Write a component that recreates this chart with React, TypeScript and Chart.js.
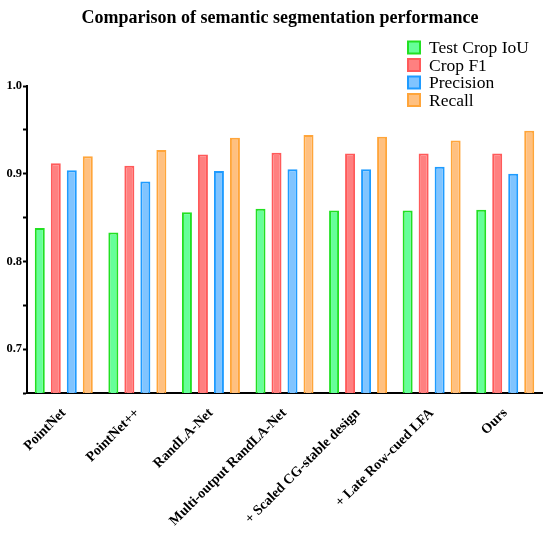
import React, { useEffect, useRef } from 'react';
import { Chart, registerables } from 'chart.js';

Chart.register(...registerables);

const categories = [
  'PointNet',
  'PointNet++',
  'RandLA-Net',
  'Multi-output RandLA-Net',
  '+ Scaled CG-stable design',
  '+ Late Row-cued LFA',
  'Ours',
];

const testCropIoU = [0.838, 0.833, 0.856, 0.86, 0.858, 0.858, 0.859];
const cropF1 = [0.912, 0.909, 0.922, 0.924, 0.923, 0.923, 0.923];
const precision = [0.904, 0.891, 0.903, 0.905, 0.905, 0.908, 0.9];
const recall = [0.92, 0.927, 0.941, 0.944, 0.942, 0.938, 0.949];

const chartTitle = 'Comparison of semantic segmentation performance';

const serif = '"Liberation Serif", "Times New Roman", serif';

// title + legend drawn by hand (legend is stacked in the top right corner)
const headerPlugin = {
  id: 'headerPlugin',
  afterDraw(chart: Chart) {
    const ctx = chart.ctx;
    ctx.save();
    ctx.fillStyle = '#000';
    ctx.font = `bold 18px ${serif}`;
    ctx.textAlign = 'center';
    ctx.textBaseline = 'middle';
    ctx.fillText(chartTitle, 280, 18);

    const rows = [47.5, 65, 82.5, 100];
    chart.data.datasets.forEach((ds: any, i: number) => {
      const y = rows[i];
      ctx.fillStyle = ds.backgroundColor;
      ctx.fillRect(408, y - 6, 12, 12);
      ctx.strokeStyle = ds.borderColor;
      ctx.lineWidth = 2;
      ctx.strokeRect(408, y - 6, 12, 12);
      ctx.fillStyle = '#000';
      ctx.font = `17.5px ${serif}`;
      ctx.textBaseline = 'middle';
      ctx.textAlign = 'left';
      ctx.fillText(ds.label, 429, y + 1);
    });
    ctx.restore();
  },
};

export default function App() {
  const canvasRef = useRef<HTMLCanvasElement>(null);
  const chartRef = useRef<Chart | null>(null);

  useEffect(() => {
    if (!canvasRef.current) return;
    if (chartRef.current) chartRef.current.destroy();

    const bar = (label: string, data: number[], fill: string, edge: string) => ({
      label,
      data,
      backgroundColor: fill,
      borderColor: edge,
      borderWidth: 2,
      categoryPercentage: 0.87,
      barPercentage: 0.625,
    });

    chartRef.current = new Chart(canvasRef.current, {
      type: 'bar',
      data: {
        labels: categories,
        datasets: [
          bar('Test Crop IoU', testCropIoU, '#66ff99', '#22e022'),
          bar('Crop F1', cropF1, '#ff8080', '#ff5a5a'),
          bar('Precision', precision, '#80c4ff', '#1e9bff'),
          bar('Recall', recall, '#ffc080', '#ffa53a'),
        ],
      },
      options: {
        responsive: true,
        maintainAspectRatio: false,
        animation: false,
        layout: { padding: { left: 0, right: 8, top: 86, bottom: 0 } },
        plugins: {
          legend: { display: false },
          tooltip: { enabled: false },
          title: { display: false },
        },
        scales: {
          x: {
            grid: { display: false, drawTicks: false },
            border: { display: true, color: '#000', width: 2 },
            ticks: {
              color: '#000',
              font: { family: serif, size: 14, weight: 'bold' },
              minRotation: 45,
              maxRotation: 45,
              autoSkip: false,
              padding: 12,
            },
            afterFit: (scale: any) => {
              scale.height = 144;
            },
          },
          y: {
            min: 0.65,
            max: 1.0,
            grid: {
              drawOnChartArea: false,
              drawTicks: true,
              tickLength: 4,
              tickColor: '#000',
              tickWidth: 2,
            },
            border: { display: true, color: '#000', width: 2 },
            ticks: {
              stepSize: 0.05,
              color: '#000',
              padding: 1,
              font: { family: serif, size: 12.5, weight: 'bold' },
              callback: (v: any) => {
                const n = Number(v);
                if (Math.abs(n * 10 - Math.round(n * 10)) > 1e-6) return '';
                if (n < 0.69) return '';
                return n.toFixed(1);
              },
            },
            afterFit: (scale: any) => {
              scale.width = 27;
            },
          },
        },
      },
      plugins: [headerPlugin],
    });

    return () => {
      if (chartRef.current) {
        chartRef.current.destroy();
        chartRef.current = null;
      }
    };
  }, []);

  return (
    <div style={{ position: 'absolute', left: 0, top: 0, width: 550, height: 537, background: '#fff' }}>
      <canvas ref={canvasRef}></canvas>
    </div>
  );
}
